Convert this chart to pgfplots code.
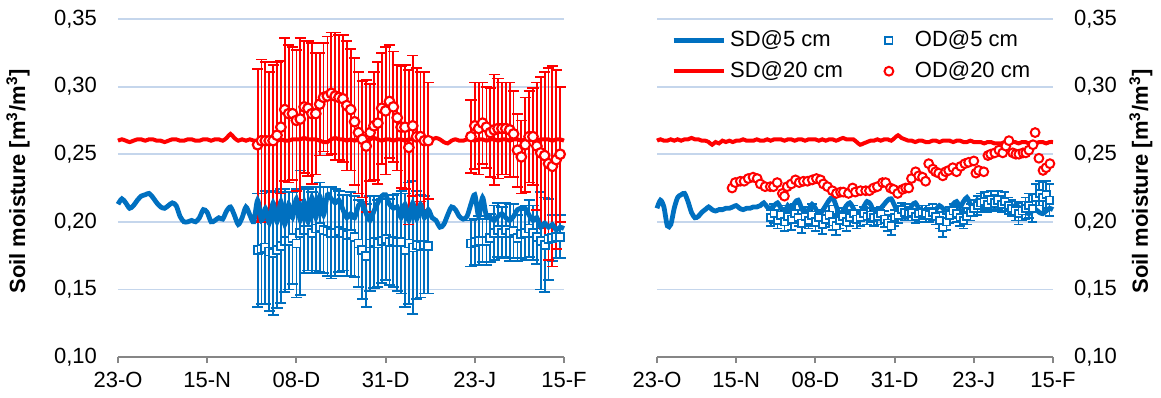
\documentclass[border=0pt]{standalone}
\usepackage{fontspec}
\setmainfont{Liberation Sans}
\usepackage{pgfplots}
\usepackage{pgfplotstable}
\pgfplotsset{compat=1.18}
\definecolor{cblue}{RGB}{0,112,192}
\definecolor{cred}{RGB}{255,0,0}
\definecolor{cgrid}{RGB}{197,214,236}
\definecolor{caxis}{RGB}{134,134,134}

% ---------------- LEFT PANEL DATA ----------------
\pgfplotstableread[row sep=\\]{d v\\
0 0.213\\1 0.217\\2 0.214\\3 0.210\\4 0.212\\5 0.216\\6 0.219\\7 0.220\\8 0.221\\9 0.218\\
10 0.214\\11 0.211\\12 0.210\\13 0.212\\14 0.214\\15 0.212\\16 0.204\\17 0.200\\18 0.200\\19 0.201\\
20 0.200\\21 0.203\\22 0.209\\23 0.207\\24 0.200\\25 0.201\\26 0.203\\27 0.202\\28 0.208\\29 0.211\\
30 0.205\\31 0.198\\32 0.203\\33 0.211\\34 0.205\\35 0.200\\36 0.216\\37 0.201\\38 0.210\\39 0.199\\
40 0.214\\41 0.200\\42 0.215\\43 0.198\\44 0.213\\45 0.203\\46 0.217\\47 0.201\\48 0.215\\49 0.200\\
50 0.218\\51 0.203\\52 0.219\\53 0.205\\54 0.220\\55 0.217\\56 0.214\\57 0.216\\58 0.209\\59 0.203\\
60 0.206\\61 0.203\\62 0.212\\63 0.214\\64 0.206\\65 0.201\\66 0.208\\67 0.214\\68 0.219\\69 0.220\\
70 0.213\\71 0.210\\72 0.211\\73 0.203\\74 0.213\\75 0.201\\76 0.214\\77 0.202\\78 0.213\\79 0.203\\
80 0.209\\81 0.203\\82 0.201\\83 0.196\\84 0.198\\85 0.205\\86 0.211\\87 0.209\\88 0.204\\89 0.202\\
90 0.204\\91 0.213\\92 0.220\\93 0.204\\94 0.218\\95 0.204\\96 0.203\\97 0.201\\98 0.204\\99 0.206\\
100 0.203\\101 0.201\\102 0.204\\103 0.209\\104 0.210\\105 0.210\\106 0.205\\107 0.201\\108 0.203\\109 0.196\\
110 0.199\\111 0.196\\112 0.198\\113 0.194\\114 0.196\\115 0.195\\
}\LSDfive

\pgfplotstableread[row sep=\\]{d v\\
0 0.260\\1 0.261\\2 0.260\\3 0.259\\4 0.260\\5 0.261\\6 0.261\\7 0.260\\8 0.261\\9 0.261\\
10 0.260\\11 0.260\\12 0.259\\13 0.260\\14 0.261\\15 0.261\\16 0.260\\17 0.260\\18 0.261\\19 0.261\\
20 0.260\\21 0.260\\22 0.261\\23 0.261\\24 0.260\\25 0.261\\26 0.261\\27 0.260\\28 0.262\\29 0.265\\
30 0.262\\31 0.260\\32 0.261\\33 0.260\\34 0.261\\35 0.260\\36 0.260\\37 0.261\\38 0.260\\39 0.260\\
40 0.261\\41 0.260\\42 0.261\\43 0.260\\44 0.260\\45 0.261\\46 0.261\\47 0.261\\48 0.262\\49 0.261\\
50 0.261\\51 0.261\\52 0.260\\53 0.259\\54 0.259\\55 0.261\\56 0.262\\57 0.261\\58 0.261\\59 0.260\\
60 0.261\\61 0.260\\62 0.261\\63 0.261\\64 0.260\\65 0.261\\66 0.262\\67 0.261\\68 0.260\\69 0.261\\
70 0.261\\71 0.260\\72 0.261\\73 0.261\\74 0.260\\75 0.261\\76 0.261\\77 0.260\\78 0.261\\79 0.261\\
80 0.261\\81 0.261\\82 0.262\\83 0.261\\84 0.259\\85 0.258\\86 0.260\\87 0.261\\88 0.260\\89 0.260\\
90 0.261\\91 0.261\\92 0.260\\93 0.261\\94 0.261\\95 0.260\\96 0.261\\97 0.261\\98 0.260\\99 0.261\\
100 0.261\\101 0.260\\102 0.261\\103 0.261\\104 0.260\\105 0.261\\106 0.261\\107 0.261\\108 0.260\\109 0.261\\
110 0.261\\111 0.261\\112 0.260\\113 0.261\\114 0.261\\115 0.260\\
}\LSDtw

\pgfplotstableread[row sep=\\]{d v e\\
36 0.179 0.042\\37 0.180 0.041\\38 0.181 0.042\\39 0.178 0.044\\40 0.177 0.046\\41 0.179 0.043\\
42 0.182 0.042\\43 0.186 0.038\\44 0.186 0.036\\45 0.188 0.034\\46 0.184 0.040\\47 0.192 0.046\\
48 0.194 0.032\\49 0.194 0.030\\50 0.192 0.030\\51 0.195 0.031\\52 0.196 0.033\\53 0.194 0.032\\54 0.193 0.033\\
55 0.192 0.034\\56 0.192 0.032\\57 0.193 0.030\\58 0.192 0.028\\59 0.190 0.030\\60 0.191 0.031\\61 0.189 0.030\\62 0.184 0.032\\
63 0.179 0.036\\64 0.175 0.038\\65 0.184 0.035\\66 0.185 0.034\\67 0.184 0.032\\68 0.186 0.031\\69 0.187 0.030\\70 0.185 0.032\\
71 0.186 0.034\\72 0.185 0.036\\73 0.185 0.038\\74 0.179 0.042\\75 0.184 0.045\\76 0.181 0.049\\77 0.183 0.040\\78 0.182 0.038\\79 0.183 0.036\\80 0.182 0.035\\
91 0.184 0.017\\92 0.185 0.017\\93 0.186 0.018\\94 0.186 0.016\\95 0.186 0.018\\96 0.188 0.018\\97 0.192 0.020\\98 0.194 0.020\\
99 0.192 0.019\\100 0.194 0.020\\101 0.192 0.021\\102 0.193 0.020\\103 0.188 0.017\\104 0.191 0.018\\105 0.192 0.020\\106 0.195 0.021\\
107 0.192 0.020\\108 0.189 0.020\\109 0.186 0.036\\110 0.183 0.035\\111 0.187 0.030\\112 0.188 0.017\\113 0.189 0.016\\114 0.189 0.016\\
}\LODfive

\pgfplotstableread[row sep=\\]{d v e\\
36 0.257 0.056\\37 0.260 0.060\\38 0.260 0.058\\39 0.260 0.051\\40 0.260 0.056\\41 0.264 0.054\\
42 0.270 0.049\\43 0.283 0.053\\44 0.280 0.051\\45 0.280 0.049\\46 0.275 0.052\\47 0.276 0.060\\
48 0.285 0.049\\49 0.284 0.050\\50 0.280 0.052\\51 0.280 0.045\\52 0.287 0.038\\53 0.292 0.040\\54 0.293 0.044\\
55 0.295 0.045\\56 0.293 0.047\\57 0.292 0.046\\58 0.291 0.047\\59 0.286 0.048\\60 0.283 0.045\\61 0.274 0.047\\62 0.266 0.045\\
63 0.261 0.043\\64 0.256 0.049\\65 0.266 0.036\\66 0.271 0.040\\67 0.273 0.045\\68 0.284 0.041\\69 0.282 0.047\\70 0.289 0.042\\
71 0.285 0.041\\72 0.277 0.039\\73 0.270 0.045\\74 0.270 0.046\\75 0.255 0.057\\76 0.271 0.052\\77 0.263 0.051\\78 0.263 0.048\\79 0.260 0.051\\80 0.260 0.043\\
91 0.263 0.027\\92 0.271 0.032\\93 0.269 0.034\\94 0.273 0.030\\95 0.270 0.030\\96 0.266 0.033\\97 0.268 0.041\\98 0.269 0.037\\
99 0.269 0.034\\100 0.269 0.034\\101 0.268 0.035\\102 0.265 0.032\\103 0.253 0.027\\104 0.248 0.027\\105 0.257 0.035\\106 0.263 0.034\\
107 0.263 0.036\\108 0.256 0.047\\109 0.251 0.056\\110 0.249 0.062\\111 0.243 0.071\\112 0.241 0.074\\113 0.246 0.066\\114 0.250 0.050\\
}\LODtw

% ---------------- RIGHT PANEL DATA ----------------
\pgfplotstableread[row sep=\\]{d v\\
0 0.210\\1 0.216\\2 0.211\\3 0.197\\4 0.198\\5 0.210\\6 0.218\\7 0.220\\8 0.221\\9 0.215\\
10 0.207\\11 0.203\\12 0.204\\13 0.207\\14 0.209\\15 0.211\\16 0.209\\17 0.208\\18 0.209\\19 0.209\\
20 0.210\\21 0.210\\22 0.211\\23 0.212\\24 0.210\\25 0.209\\26 0.210\\27 0.210\\28 0.211\\29 0.211\\
30 0.212\\31 0.214\\32 0.211\\33 0.210\\34 0.212\\35 0.214\\36 0.210\\37 0.206\\38 0.212\\39 0.208\\
40 0.214\\41 0.216\\42 0.210\\43 0.206\\44 0.209\\45 0.213\\46 0.210\\47 0.205\\48 0.208\\49 0.212\\
50 0.216\\51 0.218\\52 0.212\\53 0.205\\54 0.208\\55 0.212\\56 0.214\\57 0.210\\58 0.205\\59 0.207\\
60 0.211\\61 0.215\\62 0.213\\63 0.207\\64 0.206\\65 0.210\\66 0.213\\67 0.216\\68 0.217\\69 0.212\\
70 0.207\\71 0.206\\72 0.203\\73 0.206\\74 0.212\\75 0.214\\76 0.210\\77 0.206\\78 0.209\\79 0.208\\
80 0.207\\81 0.209\\82 0.212\\83 0.210\\84 0.208\\85 0.209\\86 0.213\\87 0.215\\88 0.211\\89 0.215\\
90 0.218\\91 0.213\\92 0.210\\93 0.216\\94 0.211\\95 0.209\\96 0.210\\97 0.212\\98 0.211\\99 0.212\\
100 0.213\\101 0.211\\102 0.209\\103 0.210\\104 0.212\\105 0.211\\106 0.208\\107 0.207\\108 0.206\\109 0.208\\
110 0.209\\111 0.207\\112 0.206\\113 0.208\\114 0.210\\115 0.209\\
}\RSDfive

\pgfplotstableread[row sep=\\]{d v\\
0 0.260\\1 0.261\\2 0.260\\3 0.260\\4 0.261\\5 0.260\\6 0.261\\7 0.260\\8 0.261\\9 0.261\\
10 0.262\\11 0.261\\12 0.261\\13 0.260\\14 0.260\\15 0.259\\16 0.257\\17 0.259\\18 0.258\\19 0.260\\
20 0.259\\21 0.260\\22 0.259\\23 0.260\\24 0.260\\25 0.261\\26 0.260\\27 0.260\\28 0.260\\29 0.261\\
30 0.260\\31 0.260\\32 0.261\\33 0.260\\34 0.261\\35 0.261\\36 0.261\\37 0.260\\38 0.261\\39 0.261\\
40 0.260\\41 0.261\\42 0.261\\43 0.260\\44 0.261\\45 0.261\\46 0.261\\47 0.260\\48 0.261\\49 0.260\\
50 0.261\\51 0.261\\52 0.260\\53 0.261\\54 0.262\\55 0.261\\56 0.261\\57 0.261\\58 0.259\\59 0.257\\
60 0.258\\61 0.259\\62 0.260\\63 0.260\\64 0.261\\65 0.260\\66 0.261\\67 0.261\\68 0.260\\69 0.262\\
70 0.264\\71 0.262\\72 0.261\\73 0.260\\74 0.260\\75 0.259\\76 0.260\\77 0.260\\78 0.259\\79 0.259\\
80 0.260\\81 0.260\\82 0.259\\83 0.260\\84 0.260\\85 0.260\\86 0.259\\87 0.260\\88 0.260\\89 0.259\\
90 0.259\\91 0.260\\92 0.259\\93 0.259\\94 0.259\\95 0.258\\96 0.259\\97 0.259\\98 0.258\\99 0.258\\
100 0.258\\101 0.259\\102 0.258\\103 0.259\\104 0.259\\105 0.258\\106 0.259\\107 0.259\\108 0.258\\109 0.259\\
110 0.258\\111 0.259\\112 0.259\\113 0.258\\114 0.259\\115 0.259\\
}\RSDtw

\pgfplotstableread[row sep=\\]{d v e\\
33 0.203 0.006\\34 0.206 0.007\\35 0.201 0.006\\36 0.205 0.007\\37 0.200 0.007\\38 0.204 0.006\\39 0.202 0.008\\
40 0.206 0.007\\41 0.203 0.006\\42 0.199 0.007\\43 0.204 0.007\\44 0.201 0.006\\45 0.205 0.008\\46 0.200 0.007\\
47 0.203 0.006\\48 0.198 0.007\\49 0.202 0.006\\50 0.205 0.007\\51 0.200 0.006\\52 0.197 0.007\\53 0.201 0.006\\
54 0.204 0.006\\55 0.200 0.007\\56 0.203 0.006\\57 0.206 0.006\\58 0.202 0.007\\59 0.203 0.006\\60 0.206 0.005\\
61 0.204 0.006\\62 0.205 0.005\\63 0.203 0.006\\64 0.204 0.006\\65 0.206 0.005\\66 0.202 0.006\\67 0.199 0.006\\
68 0.197 0.007\\69 0.203 0.006\\70 0.205 0.006\\71 0.209 0.005\\72 0.207 0.006\\73 0.206 0.005\\74 0.207 0.006\\
75 0.204 0.005\\76 0.206 0.006\\77 0.207 0.005\\78 0.206 0.006\\79 0.205 0.005\\80 0.207 0.006\\81 0.204 0.006\\
82 0.201 0.006\\83 0.196 0.007\\84 0.200 0.006\\85 0.205 0.006\\86 0.208 0.005\\87 0.206 0.006\\88 0.203 0.006\\
89 0.201 0.006\\90 0.204 0.006\\91 0.207 0.006\\92 0.210 0.006\\93 0.212 0.007\\94 0.214 0.007\\95 0.215 0.007\\
96 0.213 0.006\\97 0.216 0.007\\98 0.214 0.006\\99 0.216 0.007\\100 0.213 0.006\\101 0.215 0.007\\102 0.212 0.006\\
103 0.210 0.006\\104 0.208 0.007\\105 0.206 0.008\\106 0.208 0.007\\107 0.210 0.008\\108 0.212 0.009\\109 0.210 0.010\\
110 0.218 0.010\\111 0.221 0.009\\112 0.218 0.011\\113 0.220 0.010\\114 0.216 0.012\\
}\RODfive

\pgfplotstableread[row sep=\\]{d v\\
21.8 0.225\\22.7 0.229\\24.2 0.230\\25.3 0.230\\26.5 0.232\\27.9 0.233\\29.1 0.232\\30.0 0.228\\31.4 0.226\\
32.9 0.226\\33.8 0.226\\34.9 0.229\\36.4 0.221\\37.0 0.219\\37.8 0.226\\39.0 0.228\\40.2 0.231\\41.3 0.229\\
42.5 0.230\\43.7 0.230\\45.1 0.231\\46.3 0.232\\47.5 0.231\\48.3 0.228\\49.5 0.226\\50.9 0.223\\52.1 0.221\\
53.3 0.222\\54.1 0.222\\55.6 0.221\\56.8 0.225\\57.6 0.222\\59.1 0.223\\60.6 0.223\\61.7 0.223\\62.9 0.225\\
64.0 0.226\\65.5 0.229\\66.4 0.229\\67.8 0.225\\68.7 0.224\\69.9 0.221\\71.3 0.224\\72.2 0.225\\73.1 0.225\\
73.9 0.232\\75.1 0.237\\76.0 0.234\\77.1 0.233\\78.0 0.230\\78.9 0.243\\80.1 0.239\\80.9 0.237\\81.8 0.236\\
83.0 0.234\\83.8 0.237\\84.7 0.238\\85.9 0.240\\87.0 0.237\\88.2 0.241\\89.4 0.243\\90.5 0.244\\92.0 0.245\\
92.6 0.236\\93.4 0.238\\94.9 0.237\\96.1 0.249\\96.9 0.250\\98.1 0.251\\99.3 0.253\\100.4 0.251\\101.3 0.256\\
102.2 0.260\\103.3 0.251\\104.2 0.250\\105.1 0.250\\106.3 0.251\\107.1 0.251\\108.0 0.253\\109.2 0.257\\109.8 0.266\\
110.9 0.247\\112.1 0.238\\113.0 0.240\\114.1 0.243\\
}\RODtw

\pgfplotsset{
  panel/.style={
    scale only axis, height=169pt,
    xmin=0, xmax=115, ymin=0.10, ymax=0.35,
    xtick={0,23,46,69,92,115},
    xticklabels={23-O,15-N,08-D,31-D,23-J,15-F},
    ytick={0.10,0.15,0.20,0.25,0.30,0.35},
    ymajorgrids, grid style={cgrid, line width=0.9pt},
    axis x line*=bottom,
    x axis line style={caxis, line width=1pt, -},
    y axis line style={draw=none},
    xtick style={caxis, line width=1pt},
    ytick style={draw=none},
    tick align=outside, major tick length=3pt,
    tick label style={font=\fontsize{11}{13}\selectfont},
    xticklabel style={yshift=-1pt},
    yticklabel style={/pgf/number format/fixed, /pgf/number format/fixed zerofill,
      /pgf/number format/precision=2, /pgf/number format/use comma,
      /pgf/number format/assume math mode=true},
    clip=false,
  },
  sdfive/.style={cblue, line width=2.4pt, smooth, tension=0.45, mark=none},
  sdtw/.style={cred, line width=2pt, smooth, tension=0.45, mark=none},
  ebar/.style 2 args={only marks, mark=none, forget plot,
    error bars/y dir=both, error bars/y explicit,
    error bars/error bar style={#1, line width=0.9pt},
    error bars/error mark options={#1, rotate=90, mark size=#2, line width=0.9pt}},
  lineleg/.style={legend image code/.code={\draw[##1] (0pt,0pt) -- (25pt,0pt);}},
  markleg/.style={legend image code/.code={\path[draw=none, fill=none] (0pt,-1pt) rectangle (26pt,1pt); \draw[##1] plot coordinates {(15pt,0pt)};}},
}

\begin{document}
\begin{tikzpicture}
\useasboundingbox (0,0) rectangle (580.5pt,198.5pt);

% ---------------- LEFT ----------------
\begin{axis}[panel, width=223pt, at={(59pt,20pt)}, anchor=south west,
  axis y line*=left,
  yticklabel style={xshift=-4pt},
  ylabel={\bfseries Soil moisture [m\textsuperscript{3}/m\textsuperscript{3}]},
  ylabel style={font=\fontsize{11}{13}\selectfont, at={(axis description cs:-0.224,0.52)}, anchor=center},
]
\addplot[ebar={cblue}{2.8pt}] table[x=d, y=v, y error=e]{\LODfive};
\addplot[ebar={cred}{2.8pt}] table[x=d, y=v, y error=e]{\LODtw};
\addplot[sdtw, forget plot] table[x=d, y=v]{\LSDtw};
\addplot[sdfive, forget plot] table[x=d, y=v]{\LSDfive};
\addplot[only marks, mark=square*, mark size=2pt, forget plot,
  mark options={draw=cblue, fill=white, line width=0.9pt}] table[x=d, y=v]{\LODfive};
\addplot[only marks, mark=*, mark size=2.4pt, forget plot,
  mark options={draw=cred, fill=white, line width=1.1pt}] table[x=d, y=v]{\LODtw};
\end{axis}

% ---------------- RIGHT ----------------
\begin{axis}[panel, width=198pt, at={(328.5pt,20pt)}, anchor=south west,
  axis y line*=right,
  yticklabel style={xshift=4pt},
  ylabel={\bfseries Soil moisture [m\textsuperscript{3}/m\textsuperscript{3}]},
  ylabel style={font=\fontsize{11}{13}\selectfont, at={(axis description cs:1.222,0.52)}, anchor=center},
  legend columns=2,
  legend style={at={(axis description cs:0.02,0.99)}, anchor=north west, draw=none, fill=none,
    font=\fontsize{11}{13}\selectfont, row sep=2pt,
    /tikz/every even column/.append style={column sep=6pt}},
  legend cell align=left,
]
\addlegendimage{cblue, line width=2.4pt, mark=none, lineleg}
\addlegendentry{SD@5 cm}
\addlegendimage{only marks, draw=none, mark=square*, mark size=1.8pt, mark options={draw=cblue, fill=white, line width=0.9pt}, markleg}
\addlegendentry{OD@5 cm}
\addlegendimage{cred, line width=2pt, mark=none, lineleg}
\addlegendentry{SD@20 cm}
\addlegendimage{only marks, draw=none, mark=*, mark size=2.2pt, mark options={draw=cred, fill=white, line width=1pt}, markleg}
\addlegendentry{OD@20 cm}

\addplot[ebar={cblue}{2.3pt}] table[x=d, y=v, y error=e]{\RODfive};
\addplot[sdtw, forget plot] table[x=d, y=v]{\RSDtw};
\addplot[sdfive, forget plot] table[x=d, y=v]{\RSDfive};
\addplot[only marks, mark=square*, mark size=1.8pt, forget plot,
  mark options={draw=cblue, fill=white, line width=0.9pt}] table[x=d, y=v]{\RODfive};
\addplot[only marks, mark=*, mark size=2.2pt, forget plot,
  mark options={draw=cred, fill=white, line width=1pt}] table[x=d, y=v]{\RODtw};
\end{axis}
\end{tikzpicture}
\end{document}
